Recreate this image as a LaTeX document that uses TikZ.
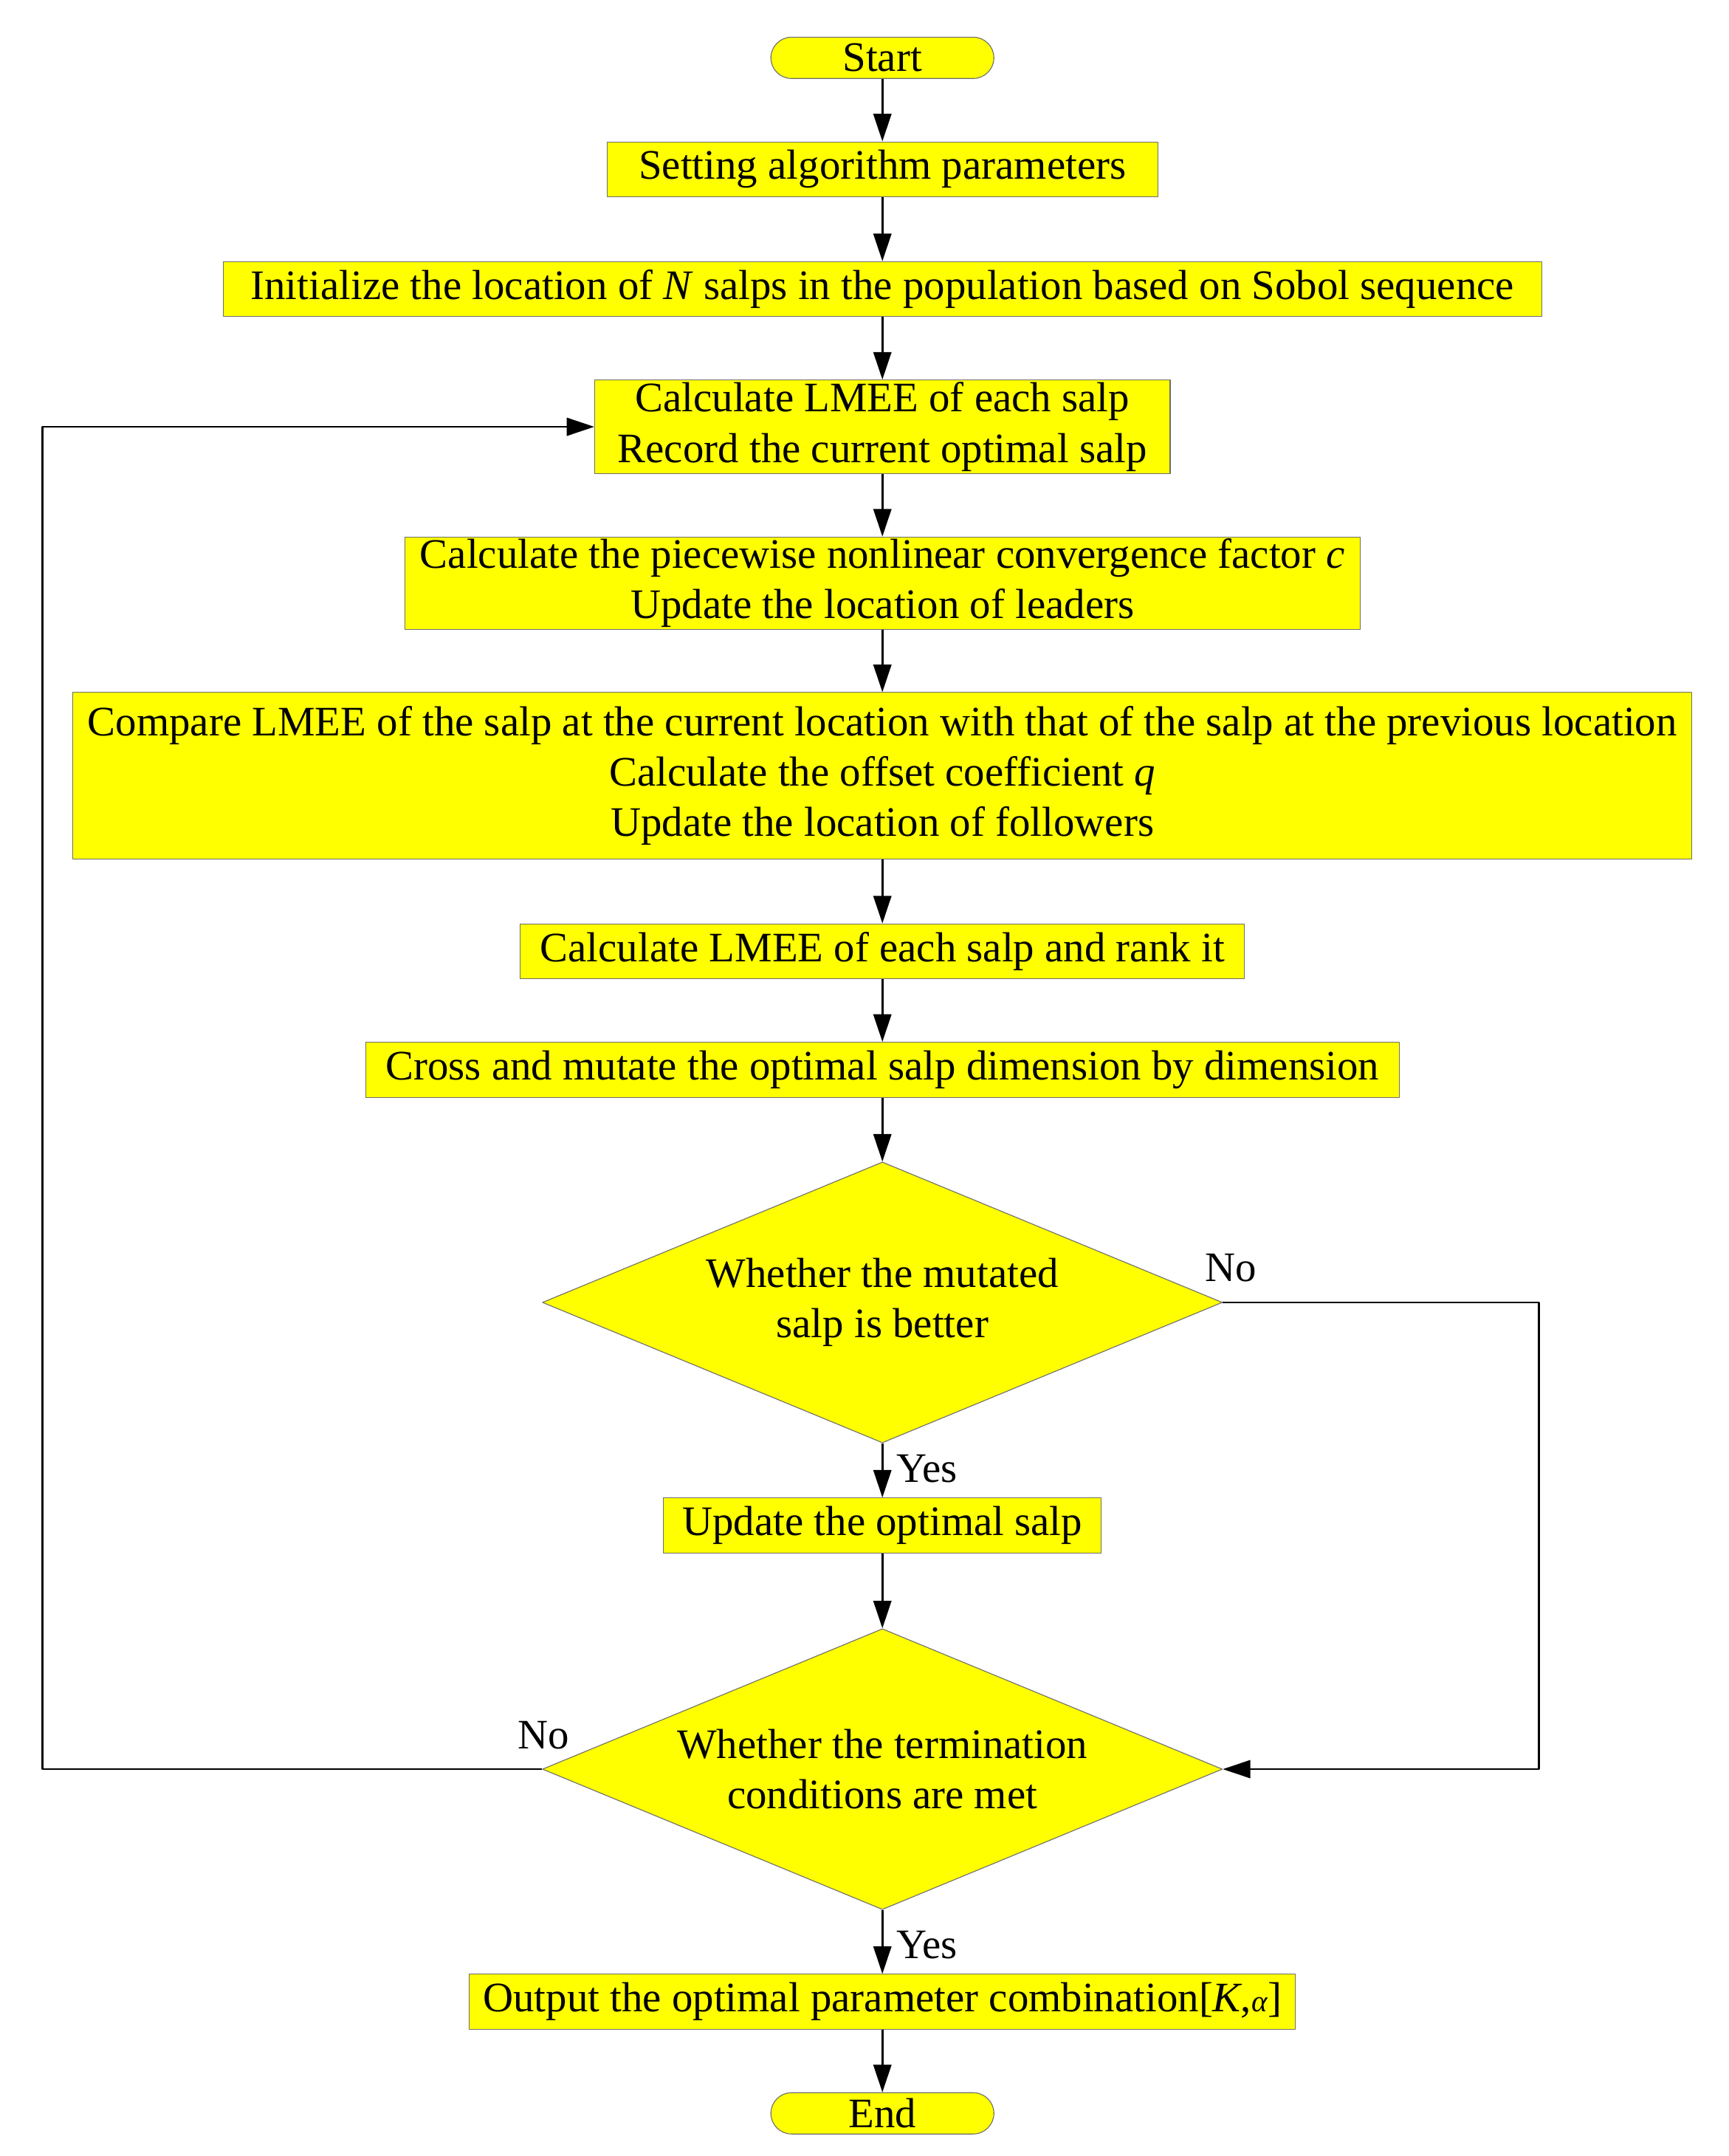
\documentclass[tikz,border=0pt]{standalone}
\usepackage{fontspec}
\setmainfont{Liberation Serif}
\usetikzlibrary{shapes.geometric,arrows.meta,calc}
\begin{document}
\begin{tikzpicture}[x=1pt,y=-1pt,>={Triangle[length=20pt,width=13pt]},
		font=\fontsize{30.5}{36.5}\selectfont, line join=round]
	\definecolor{box fill}{RGB}{255,255,0}
	\definecolor{box edge}{RGB}{110,110,110}
	\tikzset{proc/.style={rectangle, fill=box fill, draw=box edge, line width=0.6pt, inner sep=0pt, align=center},
		term/.style={proc, rounded corners=15pt, minimum width=162pt, minimum height=30pt},
		decide/.style={diamond, fill=box fill, draw=box edge, line width=0.6pt, inner sep=0pt, aspect=2.42,
			minimum width=494pt, minimum height=204pt, align=center},
		flow/.style={->, line width=1.5pt},
		lbl/.style={inner sep=0pt}}
	\useasboundingbox (0,0) rectangle (1256,1566);
	% boxes
	\node[term] (start) at (641,42) {Start};
	\node[proc, minimum width=400pt, minimum height=40pt] (set) at (641,123) {Setting algorithm parameters};
	\node[proc, minimum width=958pt, minimum height=40pt] (init) at (641,210) {Initialize the location of \textit{N} salps in the population based on Sobol sequence};
	\node[proc, minimum width=418pt, minimum height=68pt] (calc) at (641,310) {Calculate LMEE of each salp\\Record the current optimal salp};
	\node[proc, minimum width=694pt, minimum height=67pt] (lead) at (641,423.5) {Calculate the piecewise nonlinear convergence factor \textit{c}\\Update the location of leaders};
	\node[proc, minimum width=1176pt, minimum height=121pt] (follow) at (641,563.5) {Compare LMEE of the salp at the current location with that of the salp at the previous location\\Calculate the offset coefficient \textit{q}\\Update the location of followers};
	\node[proc, minimum width=526pt, minimum height=40pt] (rank) at (641,691) {Calculate LMEE of each salp and rank it};
	\node[proc, minimum width=751pt, minimum height=40pt] (cross) at (641,777) {Cross and mutate the optimal salp dimension by dimension};
	\node[decide] (better) at (641,946) {Whether the mutated\\salp is better};
	\node[proc, minimum width=318pt, minimum height=40pt] (upd) at (641,1108) {Update the optimal salp};
	\node[decide] (stop) at (641,1285) {Whether the termination\\conditions are met};
	\node[proc, minimum width=600pt, minimum height=40pt] (out) at (641,1454) {Output the optimal parameter combination[\textit{K},{\fontsize{22}{26}\selectfont\textit{α}}]};
	\node[term] (end) at (641,1535) {End};
	% loop corners
	\coordinate (lcorner) at (31,1285);
	\coordinate (ltop) at (31,310);
	\coordinate (rcorner) at (1118,946);
	\coordinate (rbot) at (1118,1285);
	% connectors
	\draw[flow] (start) -- (set);
	\draw[flow] (set) -- (init);
	\draw[flow] (init) -- (calc);
	\draw[flow] (calc) -- (lead);
	\draw[flow] (lead) -- (follow);
	\draw[flow] (follow) -- (rank);
	\draw[flow] (rank) -- (cross);
	\draw[flow] (cross) -- (better);
	\draw[flow] (better) -- (upd);
	\draw[flow] (upd) -- (stop);
	\draw[flow] (stop) -- (out);
	\draw[flow] (out) -- (end);
	\draw[flow] (better.east) -- (rcorner) -- (rbot) -- (stop.east);
	\draw[flow] (stop.west) -- (lcorner) -- (ltop) -- (calc.west);
	% labels
	\node[lbl, anchor=base west] (yes1) at ([xshift=10pt,yshift=11pt]upd.north) {Yes};
	\node[lbl, anchor=base west] (yes2) at ([xshift=10pt,yshift=11pt]out.north) {Yes};
	\node[lbl, anchor=base] (no1) at ([xshift=6pt,yshift=15pt]better.east) {No};
	\node[lbl, anchor=base] (no2) at ([xshift=1pt,yshift=15pt]stop.west) {No};
\end{tikzpicture}
\end{document}
